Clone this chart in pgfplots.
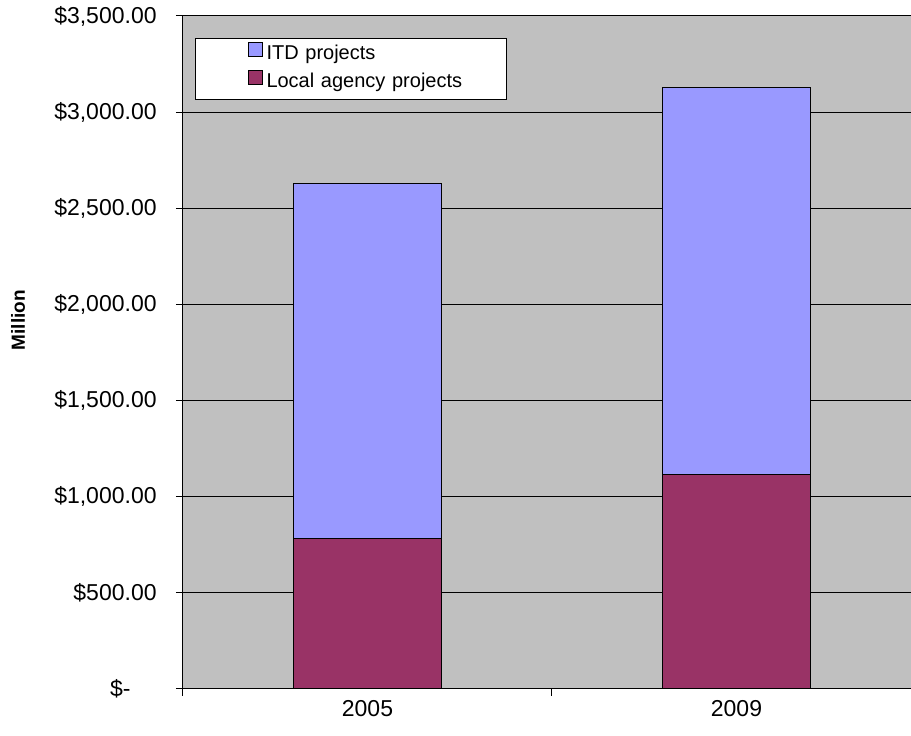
\documentclass[border=0pt]{standalone}
\usepackage{pgfplots}
\pgfplotsset{compat=1.18}
\usepackage{fontspec}
\setmainfont{Liberation Sans}
\definecolor{itd}{HTML}{9999FF}
\definecolor{loc}{HTML}{993366}
\definecolor{bg}{HTML}{C0C0C0}
\begin{document}
\begin{tikzpicture}
\begin{axis}[
  scale only axis,
  width=369pt, height=336.5pt,
  ybar stacked, bar width=74pt,
  xmin=-0.5, xmax=1.5, ymin=0, ymax=3500,
  axis lines*=left,
  axis line style={black, line width=0.5pt},
  axis background/.style={fill=bg},
  ytick={0,500,...,3500},
  yticklabels={{\$-\rule{13pt}{0pt}},{\$500.00},{\$1,000.00},{\$1,500.00},{\$2,000.00},{\$2,500.00},{\$3,000.00},{\$3,500.00}},
  ymajorgrids, major grid style={black, line width=0.5pt},
  tick align=outside, major tick length=3.5pt,
  tick style={black, line width=0.5pt},
  xtick={-0.5,0.5,1.5}, xticklabels={},
  extra x ticks={0,1}, extra x tick labels={2005,2009},
  extra x tick style={major tick length=0pt, grid=none,
     xticklabel style={anchor=north, inner sep=0pt, yshift=-5.5pt}},
  ticklabel style={font=\fontsize{11.5}{13.8}\selectfont},
  yticklabel style={anchor=east, inner sep=0pt, xshift=-9.5pt},
  ylabel={\textbf{Million}},
  ylabel style={at={(axis description cs:-0.2236,0.548)}, anchor=center, rotate=0, font=\fontsize{9.5}{11}\selectfont},
  legend image code/.code={\path (0pt,0pt) (35pt,0pt);
     \draw[#1,draw=black,line width=0.5pt] (26pt,-0.5pt) rectangle (33pt,6.5pt);},
  reverse legend,
  legend style={at={(axis description cs:0.01626,0.967)}, anchor=north west,
     draw=black, fill=white, line width=0.5pt, inner xsep=0pt, inner ysep=1.25pt,
     row sep=0pt, column sep=0pt,
     font=\fontsize{10}{12}\selectfont,
     nodes={inner xsep=0pt, inner ysep=2.25pt, text height=7pt, text depth=2.5pt}},
  legend cell align=left,
  every axis legend/.append style={nodes={text width=120pt}},
]
\addplot[fill=loc, draw=black, line width=0.5pt] coordinates {(0,785) (1,1113)};
\addlegendentry{Local agency projects}
\addplot[fill=itd, draw=black, line width=0.5pt] coordinates {(0,1845) (1,2017)};
\addlegendentry{ITD projects}
\coordinate (O) at (rel axis cs:0,0);
\coordinate (T) at (rel axis cs:1,1);
\end{axis}
\pgfresetboundingbox
\path ([xshift=-91.5pt,yshift=-23.5pt]O) rectangle ([xshift=-5pt,yshift=8pt]T);
\end{tikzpicture}
\end{document}
